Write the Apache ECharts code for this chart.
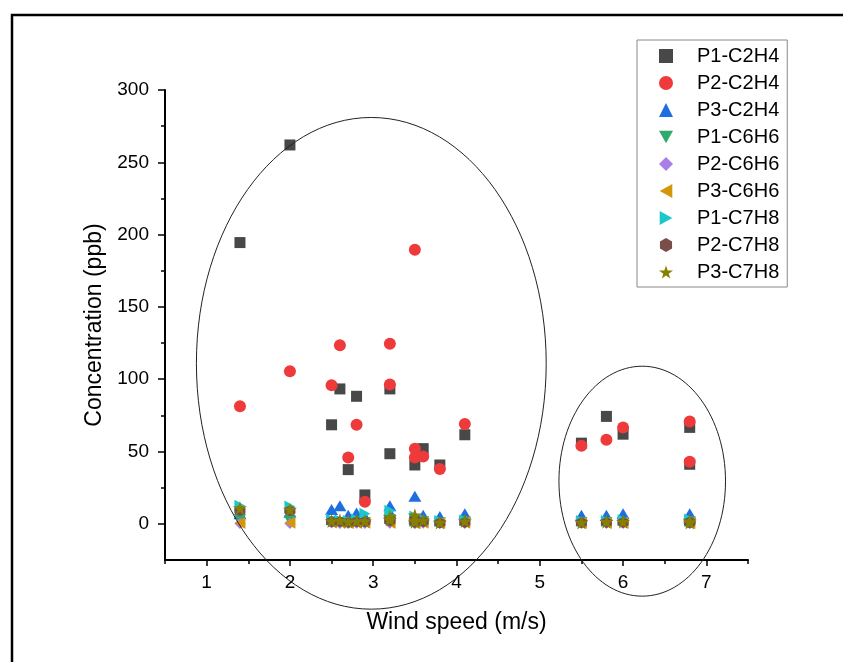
<!DOCTYPE html>
<html>
<head>
<meta charset="utf-8">
<script src="https://cdn.jsdelivr.net/npm/echarts@6/dist/echarts.min.js"></script>
<style>
html,body{margin:0;padding:0;background:#fff;}
#chart{width:854px;height:662px;}
</style>
</head>
<body>
<div id="chart"></div>
<script>
// ---- data ----
const windSpeed = [1.4, 2.0, 2.5, 2.6, 2.7, 2.8, 2.9, 3.2, 3.2, 3.5, 3.5, 3.5, 3.6, 3.8, 4.1, 5.5, 5.8, 6.0, 6.8, 6.8];
const seriesNames = ['P1-C2H4','P2-C2H4','P3-C2H4','P1-C6H6','P2-C6H6','P3-C6H6','P1-C7H8','P2-C7H8','P3-C7H8'];
const P1_C2H4 = [194.5, 262, 68.5, 93.3, 37.5, 88.2, 20, 48.5, 93.3, 40.7, null, null, 52, 40.7, 61.6, 55.8, 74.3, 62, 66.7, 41.2];
const P2_C2H4 = [81.3, 105.5, 95.8, 123.5, 45.8, 68.5, 15.3, 124.5, 96.3, 189.6, 51.9, 45.8, 46.5, 38, 69, 54, 58.1, 66.7, 70.8, 43];
const P3_C2H4 = [7, 8, 10, 12.5, 6, 7.5, 5, 12.5, 8, 19, 5, 4, 6, 5, 7, 6, 6, 7, 7, 4];
const P1_C6H6 = [3, 2, 1.5, 1, 1, 1.5, 1, 3, 2, 3, 1.5, 1, 1.5, 0.5, 1.5, 1, 1, 1, 1.5, 1];
const P2_C6H6 = [0.3, 0.2, 0.5, 0.3, 0.2, 0.4, 0.3, 0.6, 0.4, 0.5, 0.3, 0.2, 0.4, 0.2, 0.3, 0.2, 0.2, 0.2, 0.3, 0.2];
const P3_C6H6 = [0.5, 0.8, 1, 0.8, 0.5, 0.6, 0.8, 1, 0.7, 1.2, 0.6, 0.5, 0.8, 0.5, 0.8, 0.5, 0.5, 0.5, 0.6, 0.5];
const P1_C7H8 = [12.5, 12, 3, 2.5, 2, 3, 7, 9, 4, 5, 3, 2, 3, 2, 2.5, 2, 2, 2.5, 3, 2];
const P2_C7H8 = [9, 9, 1.5, 1.5, 1, 1.5, 1.5, 3, 2, 3, 1.5, 1, 1.5, 0.5, 1, 0.8, 1, 1, 1.2, 0.8];
const P3_C7H8 = [11, 10, 2, 2.5, 1.5, 2, 2, 5, 3, 6, 2.5, 1.5, 2.5, 1, 2, 1, 1.5, 1.5, 2, 1];
const xMajorTicks = [1, 2, 3, 4, 5, 6, 7];
const xMinorTicks = [0.5, 1.5, 2.5, 3.5, 4.5, 5.5, 6.5, 7.5];
const yMajorTicks = [0, 50, 100, 150, 200, 250, 300];
const yMinorTicks = [25, 75, 125, 175, 225, 275];
// annotation ellipses in data units: [centerX, centerY, radiusX, radiusY]
const ellipseLow = [2.977, 111, 2.10, 170];
const ellipseHigh = [6.23, 29.5, 1.0, 79.5];

// ---- styling ----
const allValues = [P1_C2H4, P2_C2H4, P3_C2H4, P1_C6H6, P2_C6H6, P3_C6H6, P1_C7H8, P2_C7H8, P3_C7H8];
const colors = ['#484848','#ee3a3a','#1f6ee0','#2eaa6a','#a97ee6','#d4960c','#1ac8cc','#7a4c4a','#858000'];
const symbols = [
  'rect',
  'circle',
  'triangle',
  'path://M0,0L10,0L5,9Z',
  'path://M5,0L10,5L5,10L0,5Z',
  'path://M0,5L9,0L9,10Z',
  'path://M0,0L9,5L0,10Z',
  'path://M5,0L9.33,2.5L9.33,7.5L5,10L0.67,7.5L0.67,2.5Z',
  'path://M50,0L61.8,35.1L98.6,35.1L68.7,56.8L79.4,90.5L50,69.6L20.6,90.5L31.3,56.8L1.4,35.1L38.2,35.1Z'
];
const sizes = [11, 12, [13, 11], [12, 11], 11, [11, 12], [11, 12], 11, 14];
const FONT = '"Liberation Sans", Arial, sans-serif';

const series = seriesNames.map((name, i) => ({
  name: name,
  type: 'scatter',
  xAxisIndex: 0,
  yAxisIndex: 0,
  symbol: symbols[i],
  symbolSize: sizes[i],
  itemStyle: { color: colors[i], opacity: 1 },
  data: windSpeed.map((w, k) => allValues[i][k] == null ? null : [w, allValues[i][k]]).filter(d => d)
}));

const chart = echarts.init(document.getElementById('chart'), null, { renderer: 'canvas' });

const axisCommon = {
  axisLine: { show: true, onZero: false, lineStyle: { color: '#000', width: 2 } },
  splitLine: { show: false }
};

chart.setOption({
  animation: false,
  backgroundColor: '#fff',
  textStyle: { fontFamily: FONT },
  grid: { left: 165, right: 106, top: 90, bottom: 102, containLabel: false },
  xAxis: [
    Object.assign({}, axisCommon, {
      type: 'value', min: 0.5, max: 7.5,
      name: 'Wind speed (m/s)', nameLocation: 'middle', nameGap: 51,
      nameTextStyle: { fontSize: 23, color: '#000', fontFamily: FONT },
      axisTick: { show: true, customValues: xMajorTicks, length: 6, lineStyle: { color: '#000', width: 1.5 } },
      axisLabel: { show: true, customValues: xMajorTicks, fontSize: 19, color: '#000', margin: 13, fontFamily: FONT }
    }),
    Object.assign({}, axisCommon, {
      type: 'value', min: 0.5, max: 7.5, position: 'bottom',
      axisLine: { show: false, onZero: false },
      axisTick: { show: true, customValues: xMinorTicks, length: 4, lineStyle: { color: '#000', width: 1.5 } },
      axisLabel: { show: false }
    })
  ],
  yAxis: [
    Object.assign({}, axisCommon, {
      type: 'value', min: -25, max: 300,
      name: 'Concentration (ppb)', nameLocation: 'middle', nameGap: 54, nameRotate: 90,
      nameTextStyle: { fontSize: 23, color: '#000', fontFamily: FONT },
      axisTick: { show: true, customValues: yMajorTicks, length: 7, lineStyle: { color: '#000', width: 1.5 } },
      axisLabel: { show: true, customValues: yMajorTicks, fontSize: 19, color: '#000', margin: 16, fontFamily: FONT }
    }),
    Object.assign({}, axisCommon, {
      type: 'value', min: -25, max: 300, position: 'left',
      axisLine: { show: false, onZero: false },
      axisTick: { show: true, customValues: yMinorTicks, length: 4, lineStyle: { color: '#000', width: 1.5 } },
      axisLabel: { show: false }
    })
  ],
  legend: {
    show: true,
    orient: 'vertical',
    left: 637, top: 40,
    padding: [6, 8, 5, 22],
    itemWidth: 14, itemHeight: 14,
    itemGap: 7,
    borderColor: '#888', borderWidth: 1,
    textStyle: { fontSize: 20, color: '#000', fontFamily: FONT, padding: [0, 0, 0, 19], lineHeight: 20 },
    data: seriesNames
  },
  series: series
});

function drawAnnotations() {
  const toPx = (p) => chart.convertToPixel({ gridIndex: 0 }, p);
  const mk = (e) => {
    const c = toPx([e[0], e[1]]);
    const r = toPx([e[0] + e[2], e[1] + e[3]]);
    return {
      type: 'ellipse', z: 100, silent: true,
      shape: { cx: c[0], cy: c[1], rx: Math.abs(r[0] - c[0]), ry: Math.abs(r[1] - c[1]) },
      style: { fill: 'none', stroke: '#222', lineWidth: 1 }
    };
  };
  chart.setOption({
    graphic: [
      mk(ellipseLow),
      mk(ellipseHigh),
      { type: 'polyline', z: 100, silent: true,
        shape: { points: [[12, 662], [12, 15], [843, 15]] },
        style: { fill: 'none', stroke: '#000', lineWidth: 2.5 } }
    ]
  });
}
drawAnnotations();
</script>
</body>
</html>
